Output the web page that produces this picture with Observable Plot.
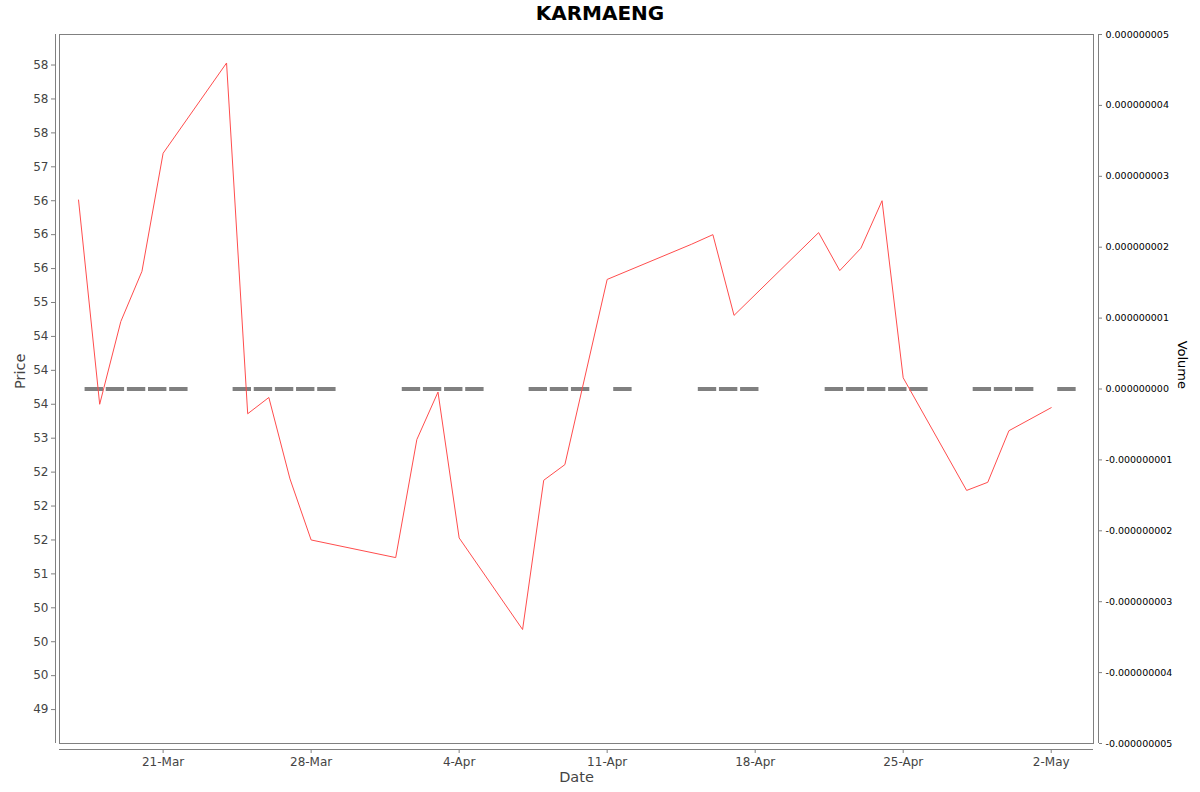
<!DOCTYPE html>
<html><head><meta charset="utf-8">
<script src="https://cdn.jsdelivr.net/npm/d3@7"></script>
<script src="https://cdn.jsdelivr.net/npm/@observablehq/plot@0.6"></script>
<style>
body{margin:0;background:#fff;}
#wrap{position:relative;width:1200px;height:792px;font-family:"DejaVu Sans",sans-serif;}
#wrap svg{position:absolute;left:0;top:0;}
#title{position:absolute;left:0;top:0;width:1200px;text-align:center;font:bold 20px "DejaVu Sans";line-height:26px;color:#000;z-index:5;}
</style></head><body>
<div id="wrap"><div id="title">KARMAENG</div></div>
<script>
const dates = ["2025-03-17","2025-03-18","2025-03-19","2025-03-20","2025-03-21",
  "2025-03-24","2025-03-25","2025-03-26","2025-03-27","2025-03-28",
  "2025-04-01","2025-04-02","2025-04-03","2025-04-04",
  "2025-04-07","2025-04-08","2025-04-09","2025-04-11",
  "2025-04-15","2025-04-16","2025-04-17",
  "2025-04-21","2025-04-22","2025-04-23","2025-04-24","2025-04-25",
  "2025-04-28","2025-04-29","2025-04-30","2025-05-02"];
const prices = [56.51,53.50,54.72,55.46,57.20,
  58.53,53.36,53.60,52.40,51.50,
  51.24,52.98,53.68,51.53,
  50.18,52.38,52.61,55.34,
  55.86,56.00,54.81,
  56.03,55.47,55.80,56.50,53.89,
  52.23,52.35,53.11,53.45];
const volumes = [0,0,0,0,0, 0,0,0,0,0, 0,0,0,0, 0,0,0,0, 0,0,0, 0,0,0,0,0, 0,0,0,0];

const priceTicks = [49,49.5,50,50.5,51,51.5,52,52.5,53,53.5,54,54.5,55,55.5,56,56.5,57,57.5,58,58.5];
const priceTickLabels = ["49","50","50","50","51","52","52","52","53","54","54","54","55","56","56","56","57","58","58","58"];
const dateTicks = ["2025-03-21","2025-03-28","2025-04-04","2025-04-11","2025-04-18","2025-04-25","2025-05-02"];
const dateTickLabels = ["21-Mar","28-Mar","4-Apr","11-Apr","18-Apr","25-Apr","2-May"];
const volumeTicks = [-0.000000005,-0.000000004,-0.000000003,-0.000000002,-0.000000001,0,
  0.000000001,0.000000002,0.000000003,0.000000004,0.000000005];
const volumeTickLabels = ["-0.000000005","-0.000000004","-0.000000003","-0.000000002","-0.000000001","0.000000000",
  "0.000000001","0.000000002","0.000000003","0.000000004","0.000000005"];

const utc = s => new Date(s + "T00:00:00Z");
const rows = dates.map((d, i) => ({date: utc(d), price: prices[i], volume: volumes[i]}));
const dateTickDates = dateTicks.map(utc);
const xDomain = [new Date("2025-03-16T02:24:00Z"), new Date("2025-05-04T00:00:00Z")];
const yDomain = [48.5, 58.95];
const vDomain = [-0.000000005, 0.000000005];

const common = {
  width: 1200, height: 792,
  marginTop: 34, marginBottom: 49, marginLeft: 59, marginRight: 107
};
const gray = "#808080";

const volPlot = Plot.plot({
  ...common,
  style: {background: "white", fontFamily: "DejaVu Sans", overflow: "visible"},
  x: {type: "utc", domain: xDomain, axis: null},
  y: {domain: vDomain, axis: null},
  marks: [
    Plot.ruleY(rows, {
      y: "volume",
      x1: d => d3.utcMinute.offset(d.date, 446),
      x2: d => d3.utcMinute.offset(d.date, 1699),
      stroke: gray, strokeWidth: 4
    }),
    Plot.ruleX([xDomain[1]], {dx: 5, stroke: gray}),
    Plot.axisY(volumeTicks, {
      anchor: "right", dx: 5, tickSize: 3, tickPadding: 4,
      tickFormat: d => volumeTickLabels[volumeTicks.indexOf(d)],
      fontSize: 9.5, fill: "#000", stroke: gray, label: null
    }),
    Plot.text(["Volume"], {frameAnchor: "right", dx: 89, rotate: 90, fontSize: 13, fill: "#000"})
  ]
});

const pricePlot = Plot.plot({
  ...common,
  style: {background: "transparent", fontFamily: "DejaVu Sans", overflow: "visible"},
  x: {type: "utc", domain: xDomain, axis: null},
  y: {domain: yDomain, axis: null},
  marks: [
    Plot.frame({stroke: gray}),
    Plot.ruleX([xDomain[0]], {dx: -4, stroke: gray}),
    Plot.ruleY([yDomain[0]], {dy: 6, stroke: gray}),
    Plot.axisY(priceTicks, {
      anchor: "left", dx: -4, tickSize: 4, tickPadding: 3,
      tickFormat: d => priceTickLabels[priceTicks.indexOf(d)],
      fontSize: 12, fill: "#444", stroke: gray, label: null
    }),
    Plot.axisX(dateTickDates, {
      anchor: "bottom", dy: 6, tickSize: 4, tickPadding: 4,
      tickFormat: d => dateTickLabels[dateTickDates.findIndex(t => +t === +d)],
      fontSize: 12, fill: "#444", stroke: gray, label: null
    }),
    Plot.line(rows, {x: "date", y: "price", stroke: "#ff4d4d", strokeWidth: 1}),
    Plot.text(["Price"], {frameAnchor: "left", dx: -39, rotate: -90, fontSize: 14.5, fill: "#444"}),
    Plot.text(["Date"], {frameAnchor: "bottom", dy: 38, fontSize: 14.5, fill: "#444"})
  ]
});

const wrap = document.getElementById("wrap");
wrap.appendChild(volPlot);
wrap.appendChild(pricePlot);
</script>
</body></html>
